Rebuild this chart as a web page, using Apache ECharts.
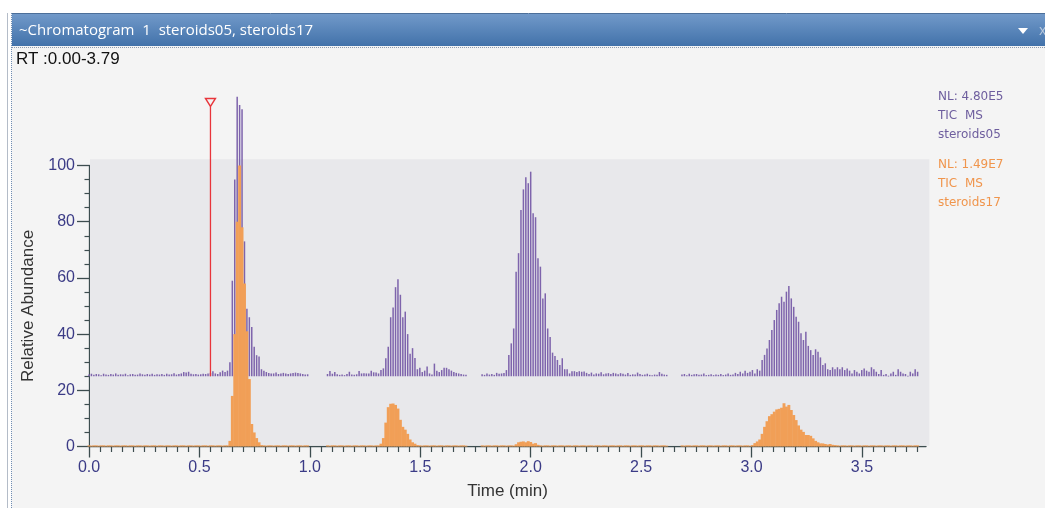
<!DOCTYPE html>
<html><head><meta charset="utf-8">
<script src="https://cdn.jsdelivr.net/npm/echarts@6/dist/echarts.min.js"></script>
<style>html,body{margin:0;padding:0;background:#fff;}#c{width:1045px;height:508px;}</style>
</head><body><div id="c"></div>
<script>
// ---------------- DATA ----------------
const scanStep = 0.011;                       // minutes between scans
const segmentStarts = [0.0, 1.08, 1.78, 2.685]; // scan segments (gaps between)
// steroids05 (purple), relative abundance above its own baseline
const purpleSeg1 = [0.6,0.9,0.5,0.8,0.7,0.4,0.9,0.6,0.5,0.8, 0.6,1.0,0.5,0.7,0.6,0.9,0.4,0.7,0.8,0.5,
  0.6,1.0,0.7,0.5,0.8,0.6,0.9,0.5,0.7,0.6, 0.8,0.5,0.9,0.6,0.7,1.1,0.6,0.8,1.0,1.5,
  1.3,1.6,0.9,0.7,0.8,0.6,0.7,0.9,0.8,1.0, 1.2,1.8,1.0,0.8,1.4,2.0,1.5,2.0,5,34,
  70,99.5,96.5,95,48,24,21,17.5,10.5,7.5, 7,2.5,2,1.5,1.2,1.0,1.0,1.3,0.8,1.0,
  1.2,1.0,0.8,1.0,1.2,1.3,1.2,1.0,0.8,0.6, 0.7];
const purpleSeg2 = [0.8,1.9,0.9,1.5,0.7,0.5,0.6,0.4,0.8,1.6, 0.6,0.5,0.7,1.9,1.0,1.1,1.0,1.0,2.0,1.4,
  1.3,1.0,2.2,2.8,6.4,10.5,21,24.5,31.7,34.5, 29,21,23,15,8,10,6.5,2.5,3,1.5,
  2,3.5,1,0.6,4.5,2,1.5,2.2,3,3, 2.5,2,1.5,1.2,1,0.8,0.6,0.5];
const purpleSeg3 = [0.7,0.5,1.0,0.6,0.8,0.5,1.2,0.9,1.0,1.2, 2.2,7.6,11.7,17,37.2,43.8,59.2,66.5,70.8,68.7,
  72.8,58,56.6,42,39,27.7,29.5,17,14,8.4, 7.2,5.8,4,6.4,2.5,
  2.5,1,1.8,1.8,1.5,1.8,1.6,1.7,1.2,0.8, 1.3,0.6,1,0.9,1.4,0.7,1,1.1,0.8,1.2,
  1,0.7,1.1,0.9,0.6,1.2,0.5,0.7,0.6,1.3, 0.8,0.5,0.6,0.9,0.5,0.4,0.6,0.5,1.5,0.9, 0.6,0.5];
const purpleSeg4 = [0.6,0.8,0.4,0.9,0.5,0.7,0.8,0.5,0.6,1.0, 0.4,0.5,0.7,0.4,0.6,0.5,0.8,0.4,0.6,1.0,
  0.5,0.6,1.2,0.8,1.6,1.0,2.0,1.2,1.6,2.2, 1.0,2.5,2.0,
  5.8,7.6,9.9,12.9,16.5,20,23.6,26,28.3,26.5, 30.1,32.1,27.7,24.7,21.2,19.4,15.3,12.9,15.8,10.8,
  9.3,7.6,9.6,8.7,6.7,4,4.6,2.5,
  2.2,3.2,2.5,3.2,2.5,3.2,2.2,2.8,2,1, 2.2,1.6,1,2.2,2.8,2,1.6,3.2,2.5,1.6,
  0.8,2.2,0.5,0.8,0.2,1,1.6,0.5,2.5,1.6, 1,0.8,0.2,1.6,1,2.5,1.6];
// steroids17 (orange), relative abundance
const orangeSeg1 = [0.4,0.3,0.4,0.4,0.3,0.4,0.4,0.3,0.4,0.4, 0.3,0.4,0.4,0.3,0.4,0.4,0.3,0.4,0.4,0.3,
  0.4,0.4,0.3,0.4,0.4,0.3,0.4,0.4,0.3,0.4, 0.4,0.3,0.4,0.4,0.3,0.4,0.4,0.3,0.4,0.4,
  0.3,0.4,0.4,0.3,0.4,0.4,0.3,0.4,0.4,0.3, 0.4,0.4,0.3,0.4,0.4,0.3,0.4,0.4,
  2,18,40,80,100,78,58,41,24,8,5,3,1.5,0.5,
  0.4,0.3,0.4,0.4,0.3,0.4,0.4,0.3,0.4,0.4, 0.3,0.4,0.4,0.3,0.4,0.4,0.3,0.4,0.4];
const orangeSeg2 = [0.4,0.3,0.4,0.4,0.3,0.4,0.4,0.3,0.4,0.4, 0.3,0.4,0.4,0.3,0.4,0.4,0.3,0.4,0.4,0.3, 0.4,0.4,
  1,3,8.5,14,15.2,15.3,14.8,13.5,9.5,7,6,4.5,2.5,1.5,1,0.5,
  0.4,0.3,0.4,0.4,0.3,0.4,0.4,0.3,0.4,0.4, 0.3,0.4,0.4,0.3,0.4,0.4,0.3,0.4,0.4,0.3];
const orangeSeg3 = [0.4,0.3,0.4,0.4,0.3,0.4,0.4,0.3,0.4,0.4, 0.3,0.4,0.4,0.3,
  0.8,1.5,1.7,1.8,1.5,1.9,1.6,1.0,1.2,0.6,
  0.4,0.3,0.4,0.4,0.3,0.4,0.4,0.3,0.4,0.4, 0.3,0.4,0.4,0.3,0.4,0.4,0.3,0.4,0.4,0.3,
  0.4,0.4,0.3,0.4,0.4,0.3,0.4,0.4,0.3,0.4, 0.4,0.3,0.4,0.4,0.3,0.4,0.4,0.3,0.4,0.4,
  0.3,0.4,0.4,0.3,0.4,0.4,0.3,0.4,0.4,0.3,0.4,0.4,0.3];
const orangeSeg4 = [0.4,0.3,0.4,0.4,0.3,0.4,0.4,0.3,0.4,0.4, 0.3,0.4,0.4,0.3,0.4,0.4,0.3,0.4,0.4,0.3,
  0.4,0.4,0.3,0.4,0.4,0.3,0.4,0.4,0.3,
  0.5,1.2,1.8,2.5,4.5,7,9,10.8,11.5,12.4, 13.2,13.4,13.8,15.4,14.2,14.8,13,11.2,9.4,7.5,
  6,5.2,4.1,4.1,3.8,2.9,2,1.5,1.1,1.1, 0.9,0.7,0.9,0.6,0.5,
  0.4,0.3,0.4,0.4,0.3,0.4,0.4,0.3,0.4,0.4, 0.3,0.4,0.4,0.3,0.4,0.4,0.3,0.4,0.4,0.3,
  0.4,0.4,0.3,0.4,0.4,0.3,0.4,0.4,0.3,0.4, 0.4,0.3,0.4,0.4];
const purpleOffset = 25;      // steroids05 trace is drawn offset by 25 %
const xTicks = [0.0, 0.5, 1.0, 1.5, 2.0, 2.5, 3.0, 3.5];
const yTicks = [0, 20, 40, 60, 80, 100];
const xRange = [0, 3.79];
const plotBgTop = 102.2;
const plotBgRight = 3.805;
const markerTime = 0.55;
const markerTop = 121;
const titleText = '~Chromatogram  1  steroids05, steroids17';
const rangeText = 'RT :0.00-3.79';
const legendPurple = ['NL: 4.80E5', 'TIC  MS', 'steroids05'];
const legendOrange = ['NL: 1.49E7', 'TIC  MS', 'steroids17'];

// ---------------- BUILD ----------------
function toPoints(segs) {
  const pts = [];
  segs.forEach((vals, s) => vals.forEach((v, i) => pts.push([segmentStarts[s] + i * scanStep, v])));
  return pts;
}
const purplePts = toPoints([purpleSeg1, purpleSeg2, purpleSeg3, purpleSeg4]);
const orangePts = toPoints([orangeSeg1, orangeSeg2, orangeSeg3, orangeSeg4]);

const PURPLE = '#7e64ac', ORANGE = '#f19f57', AXIS = '#3d4d4f', TICKLBL = '#3b3b86';

function stickRenderer(offset, widthFrac, color, minH) {
  return function (params, api) {
    const t = api.value(0), v = api.value(1);
    const p0 = api.coord([t, offset]);
    const p1 = api.coord([t, offset + v]);
    const w = api.size([scanStep, 0])[0] * widthFrac;
    return { type: 'rect',
      shape: { x: p0[0] - w / 2, y: p1[1], width: w, height: Math.max(p0[1] - p1[1], minH) },
      style: { fill: color } };
  };
}

const chart = echarts.init(document.getElementById('c'), null, { renderer: 'canvas' });
const ff = '"Liberation Sans", Arial, sans-serif';

const graphics = [
  { type: 'rect', shape: { x: 11, y: 13, width: 1034, height: 495 }, style: { fill: '#f4f4f4' }, z: -10 },
  { type: 'rect', shape: { x: 7, y: 13, width: 1, height: 495 }, style: { fill: '#b4bcc8' }, z: -9 },
  { type: 'line', shape: { x1: 11.5, y1: 13, x2: 11.5, y2: 508 }, style: { stroke: '#6f8db4', lineWidth: 1, lineDash: [1, 1] }, z: -9 },
  { type: 'rect', shape: { x: 12, y: 14, width: 1033, height: 32 },
    style: { fill: new echarts.graphic.LinearGradient(0, 0, 0, 1, [{ offset: 0, color: '#7199c9' }, { offset: 1, color: '#4272aa' }]) }, z: -9 },
  { type: 'line', shape: { x1: 12, y1: 13.5, x2: 1045, y2: 13.5 }, style: { stroke: '#4c6f9a', lineWidth: 1 }, z: -8 },
  { type: 'line', shape: { x1: 12, y1: 47.5, x2: 1045, y2: 47.5 }, style: { stroke: '#8f9cae', lineWidth: 1, lineDash: [1, 1] }, z: -8 },
  { type: 'text', x: 19, y: 31, style: { text: titleText, fill: '#ffffff', font: '15px "Open Sans", sans-serif', verticalAlign: 'middle' }, z: -7 },
  { type: 'polygon', shape: { points: [[1018, 28], [1028, 28], [1023, 34]] }, style: { fill: '#ffffff' }, z: -7 },
  { type: 'text', x: 1039, y: 31, style: { text: 'x', fill: '#b9c9dd', font: '14px "Open Sans", sans-serif', verticalAlign: 'middle' }, z: -7 },
  { type: 'text', x: 16, y: 59, style: { text: rangeText, fill: '#111111', font: '17px ' + ff, verticalAlign: 'middle' }, z: -7 }
];
legendPurple.forEach((t, i) => graphics.push({ type: 'text', x: 938, y: 97 + i * 19,
  style: { text: t, fill: '#6e5e9e', font: '12px "DejaVu Sans", sans-serif', verticalAlign: 'middle' } }));
legendOrange.forEach((t, i) => graphics.push({ type: 'text', x: 938, y: 165 + i * 19,
  style: { text: t, fill: '#f0954c', font: '12px "DejaVu Sans", sans-serif', verticalAlign: 'middle' } }));

chart.setOption({
  animation: false,
  backgroundColor: '#ffffff',
  graphic: graphics,
  grid: { left: 89, right: 119, top: 165.5, bottom: 61.5, containLabel: false, outerBoundsMode: 'none' },
  xAxis: {
    type: 'value', min: xRange[0], max: xRange[1], interval: 0.5,
    axisLine: { lineStyle: { color: AXIS, width: 1.3 } },
    axisTick: { customValues: xTicks, length: 11, lineStyle: { color: AXIS, width: 1.3 } },
    minorTick: { show: true, splitNumber: 10, length: 5.5, lineStyle: { color: AXIS, width: 1.2 } },
    axisLabel: { customValues: xTicks, formatter: v => v.toFixed(1), fontSize: 16, fontFamily: ff, color: TICKLBL, margin: 13 },
    splitLine: { show: false }, minorSplitLine: { show: false },
    name: 'Time (min)', nameLocation: 'middle', nameGap: 36, nameMoveOverlap: false,
    nameTextStyle: { fontSize: 17, fontFamily: ff, color: '#333333' }
  },
  yAxis: {
    type: 'value', min: 0, max: 100, interval: 20,
    axisLine: { show: true, lineStyle: { color: AXIS, width: 1.3 } },
    axisTick: { show: true, customValues: yTicks, length: 12, lineStyle: { color: AXIS, width: 1.3 } },
    minorTick: { show: true, splitNumber: 4, length: 4.5, lineStyle: { color: AXIS, width: 1.2 } },
    axisLabel: { customValues: yTicks, fontSize: 16, fontFamily: ff, color: TICKLBL, margin: 14 },
    splitLine: { show: false }, minorSplitLine: { show: false },
    name: 'Relative Abundance', nameLocation: 'middle', nameGap: 52, nameMoveOverlap: false,
    nameTextStyle: { fontSize: 17, fontFamily: ff, color: '#333333' }
  },
  series: [
    { type: 'custom', name: 'plotBg', z: 1, clip: false, silent: true,
      data: [[plotBgRight, plotBgTop]], encode: { x: 0, y: 1 },
      renderItem: (params, api) => {
        const a = api.coord([xRange[0], 0]);
        const b = api.coord([api.value(0), api.value(1)]);
        return { type: 'rect', shape: { x: a[0] + 1, y: b[1], width: b[0] - a[0] - 1, height: a[1] - b[1] - 0.8 }, style: { fill: '#e8e8eb' } };
      } },
    { type: 'custom', name: 'steroids05', z: 3, clip: false, data: purplePts, encode: { x: 0, y: 1 },
      renderItem: stickRenderer(purpleOffset, 0.62, PURPLE, 0.8) },
    { type: 'custom', name: 'steroids17', z: 4, clip: false, data: orangePts, encode: { x: 0, y: 1 },
      renderItem: stickRenderer(0, 1.2, ORANGE, 0.6) },
    { type: 'custom', name: 'marker', z: 5, clip: false, data: [[markerTime, purpleOffset, markerTop]], encode: { x: 0, y: 1 },
      renderItem: (params, api) => {
        const a = api.coord([api.value(0), api.value(1)]);
        const b = api.coord([api.value(0), api.value(2)]);
        return { type: 'group', children: [
          { type: 'line', shape: { x1: a[0], y1: a[1], x2: b[0], y2: b[1] }, style: { stroke: '#e8353b', lineWidth: 1.3 } },
          { type: 'polygon', shape: { points: [[b[0] - 5, b[1] - 8], [b[0] + 5, b[1] - 8], [b[0], b[1]]] },
            style: { fill: '#f4f4f4', stroke: '#e8353b', lineWidth: 1.4 } }
        ] };
      } }
  ]
});
</script></body></html>
